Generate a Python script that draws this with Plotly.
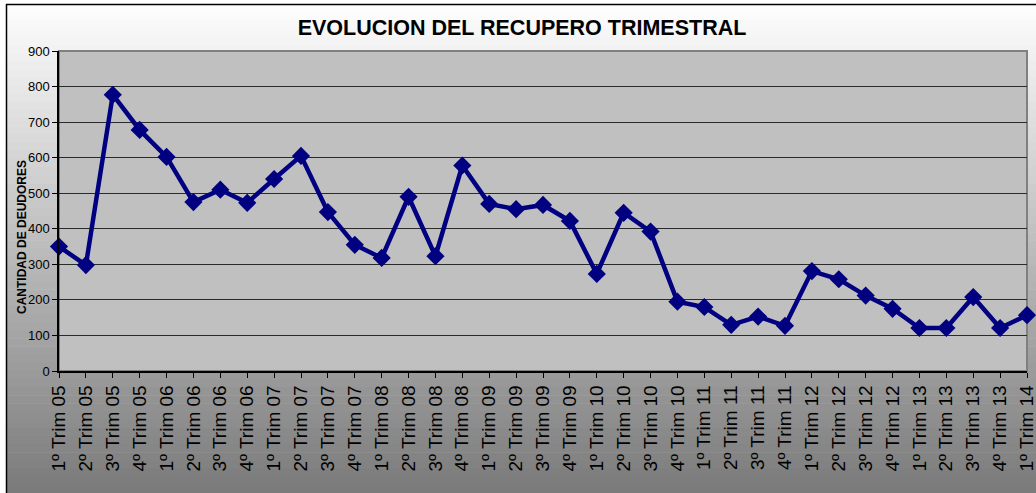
import plotly.graph_objects as go

# trimestres y cantidad de deudores recuperados
trimestres = [
    "1º Trim 05", "2º Trim 05", "3º Trim 05", "4º Trim 05",
    "1º Trim 06", "2º Trim 06", "3º Trim 06", "4º Trim 06",
    "1º Trim 07", "2º Trim 07", "3º Trim 07", "4º Trim 07",
    "1º Trim 08", "2º Trim 08", "3º Trim 08", "4º Trim 08",
    "1º Trim 09", "2º Trim 09", "3º Trim 09", "4º Trim 09",
    "1º Trim 10", "2º Trim 10", "3º Trim 10", "4º Trim 10",
    "1º Trim 11", "2º Trim 11", "3º Trim 11", "4º Trim 11",
    "1º Trim 12", "2º Trim 12", "3º Trim 12", "4º Trim 12",
    "1º Trim 13", "2º Trim 13", "3º Trim 13", "4º Trim 13",
    "1º Trim 14",
]
deudores = [
    350, 298, 777, 678,
    602, 475, 510, 473,
    540, 605, 447, 355,
    318, 490, 323, 578,
    470, 455, 467, 422,
    273, 445, 392, 195,
    180, 130, 153, 127,
    281, 258, 212, 175,
    121, 121, 208, 121,
    157,
]
y_ticks = [0, 100, 200, 300, 400, 500, 600, 700, 800, 900]

W, H = 1036, 493
L, R, T, B = 59, 9, 51, 122


def px_x(px):
    return (px - L) / (W - L - R)


def px_y(py):
    return (H - B - py) / (H - T - B)


fig = go.Figure()
fig.add_trace(go.Scatter(
    x=trimestres,
    y=deudores,
    mode="lines+markers",
    line=dict(color="#000080", width=4.5),
    marker=dict(symbol="diamond", size=14, color="#000080"),
    cliponaxis=False,
    showlegend=False,
))

# fondo degradado (blanco arriba, gris abajo)
shapes = []
n = 60
for i in range(n):
    y0 = 4 + (H - 4) * i / n
    y1 = 4 + (H - 4) * (i + 1) / n
    v = int(round(255 - 133 * ((y0 + y1) / 2) / H))
    c = "rgb(%d,%d,%d)" % (v, v, v)
    shapes.append(dict(type="rect", xref="paper", yref="paper", layer="below",
                       x0=px_x(6), x1=px_x(W + 2), y0=px_y(y1 + 0.5), y1=px_y(y0),
                       fillcolor=c, line=dict(width=0)))
# area de trazado
shapes.append(dict(type="rect", xref="x domain", yref="y domain", layer="below",
                   x0=0, x1=1, y0=0, y1=1, fillcolor="#c0c0c0",
                   line=dict(color="#808080", width=2)))
# borde del grafico
shapes.append(dict(type="line", xref="paper", yref="paper",
                   x0=px_x(6), x1=px_x(W + 2), y0=px_y(4.5), y1=px_y(4.5),
                   line=dict(color="black", width=1.5)))
shapes.append(dict(type="line", xref="paper", yref="paper",
                   x0=px_x(6.5), x1=px_x(6.5), y0=px_y(4), y1=px_y(H + 2),
                   line=dict(color="black", width=1.5)))

fig.update_layout(
    width=W, height=H,
    margin=dict(l=L, r=R, t=T, b=B),
    paper_bgcolor="white",
    plot_bgcolor="rgba(0,0,0,0)",
    font=dict(family="Liberation Sans, Arial, sans-serif", color="black"),
    title=dict(text="<b>EVOLUCION DEL RECUPERO TRIMESTRAL</b>",
               x=px_x(522), xref="paper", xanchor="center",
               y=1 - 27 / H, yanchor="middle", font=dict(size=21.5)),
    shapes=shapes,
    annotations=[dict(text="<b>CANTIDAD DE DEUDORES</b>", textangle=-90,
                      xref="paper", yref="paper", x=px_x(22), y=px_y(237),
                      xanchor="center", yanchor="middle",
                      showarrow=False, font=dict(size=12))],
)
fig.update_xaxes(
    type="category",
    range=[0, len(trimestres) - 1],
    tickangle=-90,
    tickfont=dict(size=19),
    ticks="outside", ticklen=5, tickcolor="black",
    showline=True, linecolor="black", linewidth=1.5,
    showgrid=False, zeroline=False, automargin=False,
)
fig.update_yaxes(
    range=[0, 900],
    tickvals=y_ticks,
    tickfont=dict(size=13),
    ticks="outside", ticklen=5, tickcolor="black",
    showline=True, linecolor="black", linewidth=1.5,
    showgrid=True, gridcolor="#2a2a2a", gridwidth=1.2,
    zeroline=False, automargin=False,
)

# quitar el margen del body para que la figura ocupe toda la ventana
fig.write_html("out.html", config={"displayModeBar": False},
               post_script="document.body.style.margin='0';")
